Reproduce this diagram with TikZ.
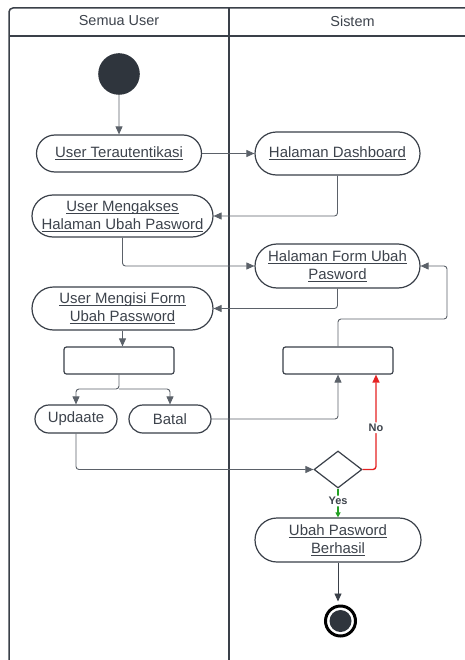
\documentclass[tikz,border=0pt]{standalone}
\usepackage{fontspec}
\setmainfont{Liberation Sans}
\usetikzlibrary{shapes.misc,shapes.geometric,arrows.meta,calc}

\definecolor{ink}{HTML}{3A4049}
\definecolor{txt}{HTML}{3D434C}
\definecolor{wire}{HTML}{5B6169}
\definecolor{dot}{HTML}{2F353D}
\definecolor{nored}{HTML}{E52222}
\definecolor{yesgreen}{HTML}{22A022}

% underline drawn just below the baseline, same depth for every line
\newcommand\ul[1]{\setbox0=\hbox{#1}\rlap{\vrule height -1.7pt depth 2.7pt width \wd0}\box0}

\tikzset{
  act/.style={rounded rectangle, draw=ink, line width=1.2bp, text=txt,
    align=center, inner sep=0pt, font=\fontsize{15}{18}\selectfont},
  bar/.style={rectangle, rounded corners=2.5bp, draw=ink, line width=1.2bp,
    minimum width=110bp, minimum height=27bp, inner sep=0pt},
  flow/.style={draw=wire, line width=0.9bp, rounded corners=3bp,
    -{Triangle[length=8bp,width=7bp]}},
  lane/.style={draw=ink, line width=1.5bp},
  head/.style={text=txt, font=\fontsize{14.5}{17}\selectfont},
  guard/.style={font=\bfseries\fontsize{11}{13}\selectfont, fill=white,
    inner sep=1.5bp},
}

\begin{document}
\begin{tikzpicture}[x=1bp,y=-1bp]
  \clip (0,0) rectangle (465,660);
  \fill[white] (0,0) rectangle (465,660);

  % swimlane frame
  \draw[lane, rounded corners=4bp] (9,700) -- (9,8) -- (500,8);
  \draw[lane] (9,36) -- (500,36);
  \draw[lane] (229,8) -- (229,700);
  \node[head] (laneU) at (119,21) {Semua User};
  \node[head] (laneS) at (352.5,21) {Sistem};

  % initial and final states
  \node[circle, fill=dot, minimum size=41.6bp, inner sep=0pt] (start) at (119,74) {};
  \node[circle, draw=black, line width=3bp, minimum size=30bp, inner sep=0pt] (end) at (340.5,621) {};
  \fill[dot] (end.center) circle[radius=11bp];

  % activities
  \node[act, minimum width=165bp, minimum height=37bp] (UT) at (119,153.5) {\ul{User Terautentikasi}};
  \node[act, minimum width=165bp, minimum height=43bp] (HD) at (337.5,153.5) {\ul{Halaman Dashboard}};
  \node[act, minimum width=181bp, minimum height=42bp] (UMHUP) at (122.5,216) {\ul{User Mengakses}\\\ul{Halaman Ubah Pasword}};
  \node[act, minimum width=165bp, minimum height=44bp] (HFUP) at (337.5,266) {\ul{Halaman Form Ubah}\\\ul{Pasword}};
  \node[act, minimum width=181bp, minimum height=43bp] (UMF) at (122.5,308.5) {\ul{User Mengisi Form}\\\ul{Ubah Password}};
  \node[bar] (lbox) at (119,360.5) {};
  \node[bar] (rbox) at (338,360.5) {};
  \node[act, minimum width=82bp, minimum height=28bp] (upd) at (76,419) {Updaate};
  \node[act, minimum width=82bp, minimum height=28bp] (bat) at (170,419) {Batal};
  \node[diamond, draw=ink, line width=1.2bp, minimum width=48bp, minimum height=37bp, inner sep=0pt] (dec) at (338,469.5) {};
  \node[act, minimum width=166bp, minimum height=44bp] (upb) at (338,540) {\ul{Ubah Pasword}\\\ul{Berhasil}};

  % control flow
  \coordinate (fork) at (119,389);
  \coordinate (loopR) at (447,319);
  \draw[flow] (start) -- (UT);
  \draw[flow] (UT) -- (HD);
  \draw[flow] (HD.south) |- (UMHUP.east);
  \draw[flow] (UMHUP.south) |- (HFUP.west);
  \draw[flow] (HFUP.south) |- (UMF.east);
  \draw[flow] (UMF.south) -- (UMF.south |- lbox.north);
  \draw[flow] (lbox.south) -- (fork) -| (upd.north);
  \draw[flow] (fork) -| (bat.north);
  \draw[flow] (bat.east) -| (rbox.south);
  \draw[flow] (rbox.north) |- (loopR) |- (HFUP.east);
  \draw[flow] (upd.south) |- (dec.west);
  \draw[flow, draw=nored, line width=1.4bp] (dec.east) -| node[guard, pos=0.72, text=txt] {No} ($(rbox.south)+(38,0)$);
  \draw[flow, draw=yesgreen, line width=1.2bp, -{Triangle[length=5bp,width=5bp]}] (dec.south) -- node[guard, pos=0.43, text=txt] {Yes} (upb.north);
  \draw[flow, draw=ink] (upb.south) -- ($(upb.south |- end.north)+(0,-3)$);
\end{tikzpicture}
\end{document}
